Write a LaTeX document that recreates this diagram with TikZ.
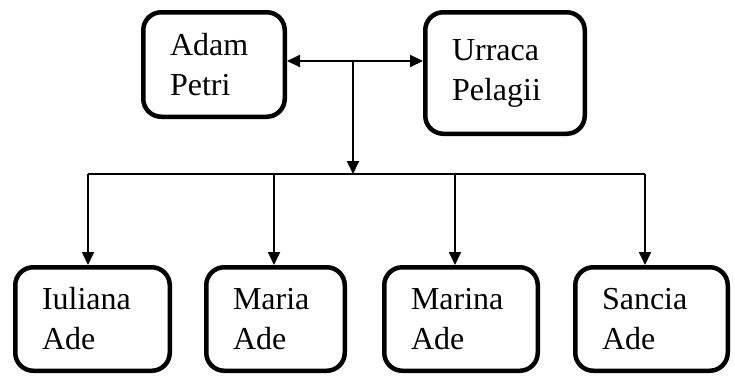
\documentclass[tikz,border=0pt]{standalone}
\usepackage{fontspec}
\setmainfont{Liberation Serif}
\usetikzlibrary{arrows.meta}
\begin{document}
\begin{tikzpicture}[x=1pt,y=-1pt,
  box/.style={draw, line width=4.5pt, rounded corners=18pt, inner xsep=26.75pt, inner ysep=0pt,
    align=left, font=\fontsize{32}{40}\selectfont},
  conn/.style={line width=1.8pt},
  arr/.style={conn, -{Triangle[length=13pt,width=12pt]}},
  darr/.style={conn, {Triangle[length=13pt,width=12pt]}-{Triangle[length=13pt,width=12pt]}}]
\useasboundingbox (0,0) rectangle (735,376);
\node[box, minimum width=141.5pt, minimum height=104.5pt, text width=88pt] (adam) at (214,64.5) {Adam\\Petri};
\node[box, minimum width=159.5pt, minimum height=121.5pt, text width=106pt] (urraca) at (505,73) {Urraca\\Pelagii};
\node[box, minimum width=154.5pt, minimum height=103.5pt, text width=101pt] (iuliana) at (92.5,319) {Iuliana\\Ade};
\node[box, minimum width=138.5pt, minimum height=103.5pt, text width=85pt] (maria) at (275.5,319) {Maria\\Ade};
\node[box, minimum width=153.5pt, minimum height=103.5pt, text width=100pt] (marina) at (461,319) {Marina\\Ade};
\node[box, minimum width=152.5pt, minimum height=103.5pt, text width=99pt] (sancia) at (651.5,319) {Sancia\\Ade};
\coordinate (j) at (353,61);
\coordinate (k) at (353,174);
\coordinate (b1) at (88,174);
\coordinate (b2) at (274,174);
\coordinate (b3) at (455,174);
\coordinate (b4) at (645,174);
\draw[darr] (adam.east |- j) -- (urraca.west |- j);
\draw[arr] (j) -- (k);
\draw[conn] (b1) -- (b4);
\draw[arr] (b1) -- (b1 |- iuliana.north);
\draw[arr] (b2) -- (b2 |- maria.north);
\draw[arr] (b3) -- (b3 |- marina.north);
\draw[arr] (b4) -- (b4 |- sancia.north);
\end{tikzpicture}
\end{document}
